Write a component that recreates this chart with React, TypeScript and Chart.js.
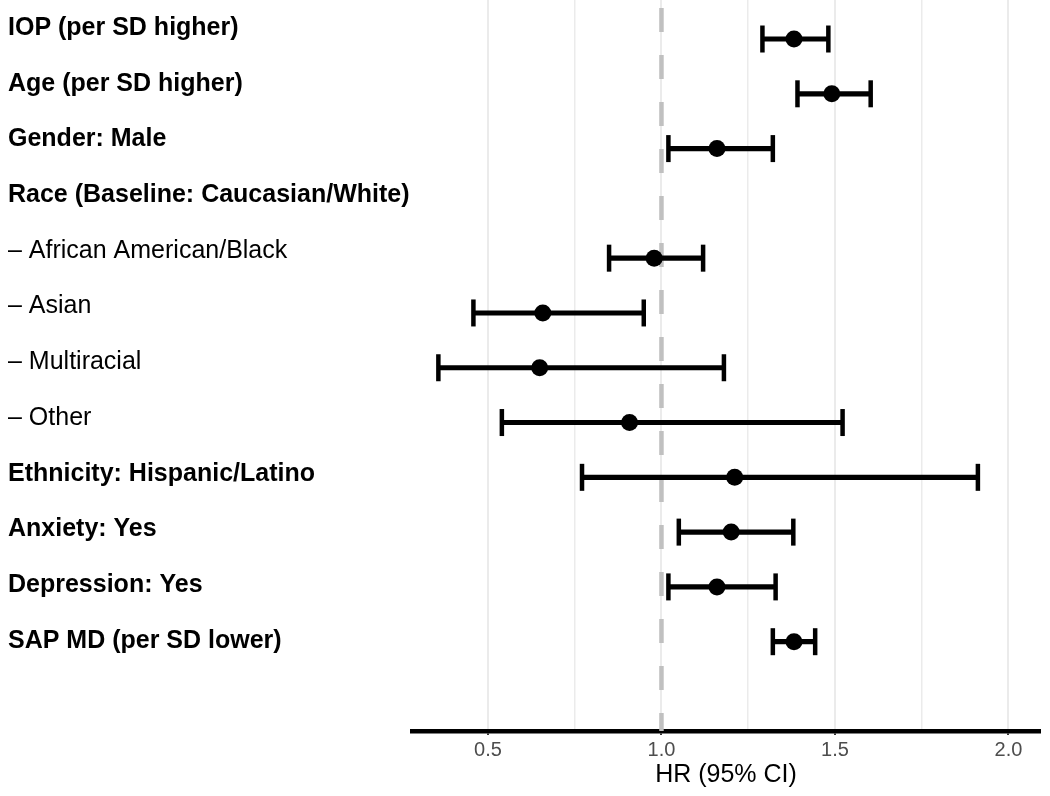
import React, { useEffect, useRef } from "react";
import { Chart, registerables } from "chart.js";

Chart.register(...registerables);

// ---- data ----
const rowLabels = [
  "IOP (per SD higher)",
  "Age (per SD higher)",
  "Gender: Male",
  "Race (Baseline: Caucasian/White)",
  "– African American/Black",
  "– Asian",
  "– Multiracial",
  "– Other",
  "Ethnicity: Hispanic/Latino",
  "Anxiety: Yes",
  "Depression: Yes",
  "SAP MD (per SD lower)",
];
const boldRows = [true, true, true, true, false, false, false, false, true, true, true, true];
const hrValues: (number | null)[] = [1.382, 1.491, 1.16, null, 0.979, 0.658, 0.649, 0.908, 1.211, 1.201, 1.16, 1.382];
const ciLow: (number | null)[] = [1.291, 1.392, 1.02, null, 0.849, 0.458, 0.357, 0.54, 0.771, 1.05, 1.02, 1.321];
const ciHigh: (number | null)[] = [1.481, 1.603, 1.321, null, 1.12, 0.949, 1.18, 1.522, 1.912, 1.38, 1.329, 1.443];
const xTickValues = [0.5, 0.75, 1.0, 1.25, 1.5, 1.75, 2.0];
const xLabelTicks = [0.5, 1.0, 1.5, 2.0];
const refValue = 1.0;
const xTitle = "HR (95% CI)";

const X_MIN = 0.281;
const X_MAX = 2.091;
const Y_MIN = -0.712;
const Y_MAX = 12.63;
const YL_MIN = -0.503;
const YL_MAX = 12.62;
const FONT = "'Liberation Sans', Arial, Helvetica, sans-serif";

const isMajor = (v: number) => xLabelTicks.some((t) => Math.abs(t - v) < 1e-6);
const zeroPad = () => ({ left: 0, top: 0, right: 0, bottom: 0 });
const clearPadding = (scale: any) => {
  scale.paddingTop = 0;
  scale.paddingBottom = 0;
  scale.paddingLeft = 0;
  scale.paddingRight = 0;
  scale.getPadding = zeroPad;
};

export default function App() {
  const canvasRef = useRef<HTMLCanvasElement | null>(null);

  useEffect(() => {
    if (!canvasRef.current) return;

    const points: any[] = [];
    const bars: any[] = [];
    const caps: any[] = [];
    rowLabels.forEach((_, i) => {
      const h = hrValues[i];
      const lo = ciLow[i];
      const hi = ciHigh[i];
      if (h == null || lo == null || hi == null) return;
      points.push({ x: h, y: i });
      bars.push({ x: [lo, hi], y: i });
      caps.push({ x: lo, y: i });
      caps.push({ x: hi, y: i });
    });

    const chart = new Chart(canvasRef.current, {
      type: "scatter",
      data: {
        datasets: [
          {
            type: "scatter",
            label: "HR",
            data: points,
            pointRadius: 8.5,
            pointHoverRadius: 8.5,
            backgroundColor: "#000000",
            borderWidth: 0,
            xAxisID: "x",
            yAxisID: "y",
            order: 0,
          } as any,
          {
            type: "scatter",
            label: "caps",
            data: caps,
            pointStyle: "line",
            rotation: 90,
            pointRadius: 13.5,
            pointHoverRadius: 13.5,
            borderColor: "#000000",
            borderWidth: 4.5,
            xAxisID: "x",
            yAxisID: "y",
            order: 1,
          } as any,
          {
            type: "bar",
            label: "CI",
            data: bars,
            indexAxis: "y",
            barThickness: 4.5,
            backgroundColor: "#000000",
            borderWidth: 0,
            xAxisID: "x",
            yAxisID: "y",
            order: 2,
          } as any,
          {
            type: "line",
            label: "ref",
            data: [
              { x: refValue, y: Y_MIN },
              { x: refValue, y: Y_MAX },
            ],
            borderColor: "#c0c0c0",
            borderWidth: 4.5,
            borderDash: [24, 23],
            borderDashOffset: 39,
            pointRadius: 0,
            fill: false,
            xAxisID: "x",
            yAxisID: "y",
            order: 3,
          } as any,
        ],
      },
      options: {
        animation: false,
        responsive: false,
        events: [],
        layout: { autoPadding: false, padding: { left: 8, right: 10, top: 0, bottom: 0 } },
        plugins: {
          legend: { display: false },
          tooltip: { enabled: false },
        },
        scales: {
          x: {
            type: "linear",
            position: "bottom",
            min: X_MIN,
            max: X_MAX,
            afterBuildTicks: (scale: any) => {
              scale.ticks = xTickValues.map((v) => ({ value: v }));
            },
            afterFit: (scale: any) => {
              scale.height = 65;
              clearPadding(scale);
            },
            grid: {
              display: true,
              drawTicks: true,
              tickLength: 4,
              color: "#ebebeb",
              lineWidth: (ctx: any) => (ctx.tick && isMajor(ctx.tick.value) ? 2 : 1.5),
              tickColor: (ctx: any) => (ctx.tick && isMajor(ctx.tick.value) ? "#333333" : "rgba(0,0,0,0)"),
              tickWidth: 2,
            },
            border: { display: true, color: "#000000", width: 4.5 },
            ticks: {
              padding: 3,
              color: "#4d4d4d",
              font: { family: FONT, size: 20, lineHeight: 1.2 },
              maxRotation: 0,
              autoSkip: false,
              callback: (v: any) => (isMajor(Number(v)) ? Number(v).toFixed(1) : ""),
            },
            title: {
              display: true,
              text: xTitle,
              color: "#000000",
              font: { family: FONT, size: 25, lineHeight: 1.2 },
              padding: { top: 0, bottom: 6 },
            },
          },
          y: {
            type: "linear",
            display: false,
            reverse: true,
            min: Y_MIN,
            max: Y_MAX,
            offset: false,
            afterFit: (scale: any) => clearPadding(scale),
          },
          yl: {
            type: "linear",
            position: "left",
            reverse: true,
            min: YL_MIN,
            max: YL_MAX,
            afterBuildTicks: (scale: any) => {
              scale.ticks = rowLabels.map((_, i) => ({ value: i }));
            },
            afterFit: (scale: any) => {
              scale.width = 404;
              clearPadding(scale);
            },
            grid: { display: false, drawTicks: false },
            border: { display: false },
            ticks: {
              crossAlign: "far",
              padding: 0,
              autoSkip: false,
              color: "#000000",
              font: (ctx: any) => ({
                family: FONT,
                size: 25,
                lineHeight: 1.2,
                weight: ctx.index != null && boldRows[ctx.index] ? "bold" : "normal",
              }),
              callback: (v: any) => {
                const i = Math.round(Number(v));
                return rowLabels[i] ?? "";
              },
            },
          },
        },
      } as any,
    });

    return () => chart.destroy();
  }, []);

  return (
    <div style={{ position: "absolute", left: 0, top: 0, width: 1050, height: 796, background: "#ffffff" }}>
      <canvas ref={canvasRef} width={1050} height={796} style={{ display: "block" }} />
    </div>
  );
}
